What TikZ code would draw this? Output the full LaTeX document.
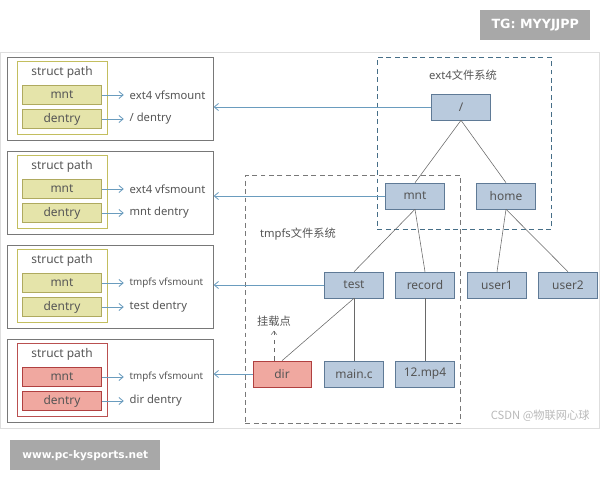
\documentclass[tikz,border=0pt]{standalone}
\usepackage{fontspec}
\setmainfont{Noto Sans}
\newfontfamily\cjk{Noto Sans CJK SC}
\newfontfamily\markfont{DejaVu Sans}
\usepackage{xcolor}
\usetikzlibrary{arrows.meta}

\definecolor{txtgray}{RGB}{85,85,85}
\definecolor{treefill}{RGB}{185,202,221}
\definecolor{treeline}{RGB}{95,122,150}
\definecolor{yelfill}{RGB}{229,228,170}
\definecolor{yelline}{RGB}{175,170,95}
\definecolor{yelframe}{RGB}{195,190,95}
\definecolor{redfill}{RGB}{240,168,160}
\definecolor{redline}{RGB}{176,64,64}
\definecolor{redframe}{RGB}{185,80,80}
\definecolor{arrowblue}{RGB}{106,156,190}
\definecolor{edgegray}{RGB}{105,105,105}
\definecolor{boxgray}{RGB}{120,120,120}
\definecolor{framegray}{RGB}{222,222,222}
\definecolor{markgray}{RGB}{168,168,168}
\definecolor{extdash}{RGB}{70,110,135}
\definecolor{csdngray}{RGB}{185,185,185}

\begin{document}
\begin{tikzpicture}[
    x=0.025cm, y=-0.025cm,
    font=\fontsize{8}{10}\selectfont,
    treebox/.style={rectangle, draw=treeline, fill=treefill, text=txtgray, font=\fontsize{8.5}{10}\selectfont, minimum width=1.475cm, minimum height=0.65cm, inner sep=0pt},
    fieldbox/.style={rectangle, draw=#1line, fill=#1fill, text=txtgray, font=\fontsize{8.5}{10}\selectfont, minimum width=1.975cm, minimum height=0.475cm, inner sep=0pt},
    pathbox/.style={rectangle, draw=#1frame, semithick, fill=white, minimum width=2.25cm, minimum height=1.825cm, anchor=north west},
    rowbox/.style={rectangle, draw=boxgray, minimum width=5.15cm, minimum height=2.075cm, anchor=north west},
    fsbox/.style={rectangle, draw=#1, semithick, dash pattern=on 3.5pt off 2.5pt, anchor=north west},
    label/.style={text=txtgray, inner sep=1pt},
    markbox/.style={rectangle, fill=markgray, text=white, font=\markfont\fontsize{9}{11}\selectfont\bfseries, inner sep=0pt},
    arrow/.style={-{Straight Barb[length=3pt,width=5pt]}, draw=arrowblue, semithick},
    link/.style={draw=edgegray}
]
\useasboundingbox (0,0) rectangle (600,480);

% Frame and marks
\draw[framegray] (0,52) rectangle (599,428);
\node[markbox, minimum width=2.75cm, minimum height=0.75cm, anchor=north west] (tg) at (480,10) {TG: MYYJJPP};
\node[markbox, font=\markfont\fontsize{7.5}{9}\selectfont\bfseries, minimum width=3.75cm, minimum height=0.75cm, anchor=north west] (site) at (10,440) {www.pc-kysports.net};
\node[text=csdngray, anchor=south east, inner sep=0pt] (csdn) at (590,422) {\cjk CSDN @物联网心球};

% File systems
\node[fsbox=extdash, minimum width=4.35cm, minimum height=4.3cm] (extfs) at (377,57) {};
\node[label] (extlabel) at (463,75) {ext4\cjk 文件系统};
\node[fsbox=boxgray, minimum width=5.375cm, minimum height=6.2cm] (tmpfs) at (245,175) {};
\node[label] (tmplabel) at (298,234) {tmpfs\cjk 文件系统};

% Tree
\node[treebox] (root) at (461,107) {/};
\node[treebox] (mnt) at (415,196) {mnt};
\node[treebox] (home) at (506,196) {home};
\node[treebox] (test) at (354,285) {test};
\node[treebox] (record) at (425,285) {record};
\node[treebox] (user1) at (497,285) {user1};
\node[treebox] (user2) at (568,285) {user2};
\node[treebox, fill=redfill, draw=redline, minimum width=1.45cm] (dir) at (282,374) {dir};
\node[treebox] (mainc) at (354,374) {main.c};
\node[treebox] (mpfour) at (425,374) {12.mp4};

\draw[link] (root.south) -- (mnt.north);
\draw[link] (root.south) -- (home.north);
\draw[link] (mnt.south) -- (test.north);
\draw[link] (mnt.south) -- (record.north);
\draw[link] (home.south) -- (user1.north);
\draw[link] (home.south) -- (user2.north);
\draw[link] (test.south) -- (dir.north);
\draw[link] (test.south) -- (mainc.north);
\draw[link] (record.south) -- (mpfour.north);

% Mount point
\node[label] (mplabel) at (274,321) {\cjk 挂载点};
\draw[edgegray, dashed, -{Straight Barb[length=2.5pt,width=4pt]}] (dir.north -| mplabel) -- ([yshift=-2pt]mplabel.south);

% struct path rows
\foreach \i/\t/\mtxt/\dtxt/\c in {1/57/{ext4 vfsmount}/{/ dentry}/yel,
    2/151/{ext4 vfsmount}/{mnt dentry}/yel,
    3/245/{\fontsize{7}{8}\selectfont tmpfs vfsmount}/{test dentry}/yel,
    4/339/{\fontsize{7}{8}\selectfont tmpfs vfsmount}/{dir dentry}/red} {
  \node[rowbox] (row\i) at (7,\t) {};
  \node[pathbox=\c] (path\i) at (17,\t+4) {};
  \node[label, font=\fontsize{8.5}{10}\selectfont] (title\i) at (62,\t+15) {struct path};
  \node[fieldbox=\c] (mnt\i) at (62,\t+38) {mnt};
  \node[fieldbox=\c] (den\i) at (62,\t+62) {dentry};
  \node[label, anchor=west] (mtxt\i) at (128,\t+38) {\mtxt};
  \node[label, anchor=west] (dtxt\i) at (128,\t+62) {\dtxt};
  \draw[arrow, shorten >=3pt] (mnt\i) -- (mtxt\i);
  \draw[arrow, shorten >=3pt] (den\i) -- (dtxt\i);
}

% Mount links
\draw[arrow] (root.west) -- (root.west -| row1.east);
\draw[arrow] (mnt.west) -- (mnt.west -| row2.east);
\draw[arrow] (test.west) -- (test.west -| row3.east);
\draw[arrow] (dir.west) -- (dir.west -| row4.east);

\end{tikzpicture}
\end{document}
